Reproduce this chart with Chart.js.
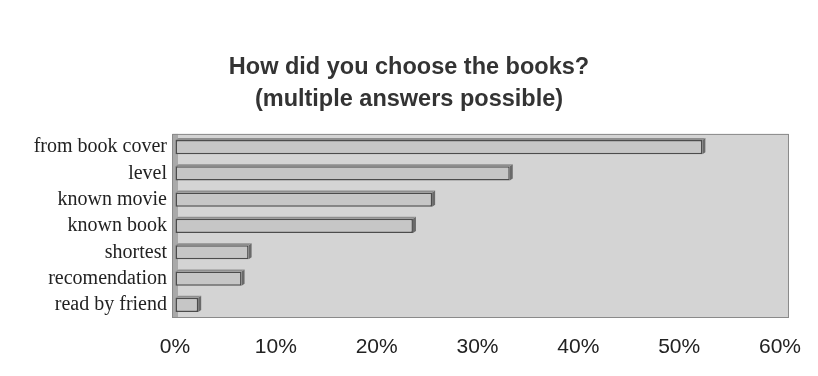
<!DOCTYPE html>
<html>
<head>
<meta charset="utf-8">
<script src="https://cdn.jsdelivr.net/npm/chart.js@4"></script>
<style>
  html, body { margin: 0; padding: 0; background: #fff; }
  #wrap { width: 818px; height: 376px; }
</style>
</head>
<body>
<div id="wrap"><canvas id="chartCanvas" width="818" height="376"></canvas></div>
<script>
const categories = ['from book cover', 'level', 'known movie', 'known book', 'shortest', 'recomendation', 'read by friend'];
const shares = [52.3, 33.2, 25.5, 23.6, 7.3, 6.6, 2.3];
const xTicks = [0, 10, 20, 30, 40, 50, 60];
const titleLines = ['How did you choose the books?', '(multiple answers possible)'];

// grey back wall behind the bars, with a thin darker left wall
const plotBox = {
  id: 'plotBox',
  beforeDatasetsDraw(chart) {
    const { ctx, chartArea: a } = chart;
    ctx.save();
    ctx.fillStyle = '#d4d4d4';
    ctx.fillRect(a.left, a.top, a.right - a.left + 8, a.bottom - a.top);
    ctx.fillStyle = '#a9a9a9';
    ctx.fillRect(a.left - 2, a.top, 5, a.bottom - a.top);
    ctx.strokeStyle = '#8a8a8a';
    ctx.lineWidth = 1;
    ctx.strokeRect(a.left - 2.5, a.top + 0.5, a.right - a.left + 11, a.bottom - a.top - 1);
    ctx.restore();
  }
};

// darker end face so the bars look a bit like the old 3D office charts
const barCaps = {
  id: 'barCaps',
  afterDatasetsDraw(chart) {
    const { ctx } = chart;
    chart.getDatasetMeta(0).data.forEach(bar => {
      const h = bar.height;
      const top = bar.y - h / 2;
      ctx.save();
      ctx.fillStyle = '#6a6a6a';
      ctx.beginPath();
      ctx.moveTo(bar.x, top);
      ctx.lineTo(bar.x + 3, top - 2);
      ctx.lineTo(bar.x + 3, top + h - 2);
      ctx.lineTo(bar.x, top + h);
      ctx.closePath();
      ctx.fill();
      ctx.fillStyle = '#8e8e8e';
      ctx.beginPath();
      ctx.moveTo(bar.base, top);
      ctx.lineTo(bar.base + 3, top - 2);
      ctx.lineTo(bar.x + 3, top - 2);
      ctx.lineTo(bar.x, top);
      ctx.closePath();
      ctx.fill();
      ctx.restore();
    });
  }
};

new Chart(document.getElementById('chartCanvas'), {
  type: 'bar',
  data: {
    labels: categories,
    datasets: [{
      data: shares,
      backgroundColor: '#c6c6c6',
      borderColor: '#4c4c4c',
      borderWidth: 1.5,
      borderSkipped: false,
      barPercentage: 0.54,
      categoryPercentage: 1
    }]
  },
  options: {
    indexAxis: 'y',
    responsive: false,
    animation: false,
    layout: { padding: { top: 52, right: 28, left: 28, bottom: 0 } },
    plugins: {
      legend: { display: false },
      tooltip: { enabled: false },
      title: {
        display: true,
        text: titleLines,
        color: '#333',
        font: { family: 'Liberation Sans, Arial, sans-serif', size: 23.5, weight: 'bold', lineHeight: 1.36 },
        padding: { top: 0, bottom: 18 }
      }
    },
    scales: {
      x: {
        min: 0,
        max: 60,
        afterBuildTicks(scale) { scale.ticks = xTicks.map(v => ({ value: v })); },
        afterFit(scale) { scale.height = 58; },
        ticks: {
          callback: v => v + '%',
          color: '#222',
          padding: 17,
          maxRotation: 0,
          font: { family: 'Liberation Sans, Arial, sans-serif', size: 21 }
        },
        grid: { color: 'rgba(255,255,255,0.35)', drawTicks: false },
        border: { display: false }
      },
      y: {
        afterFit(scale) { scale.width = 147; },
        ticks: {
          autoSkip: false,
          color: '#222',
          padding: 8,
          font: { family: 'Liberation Serif, Times New Roman, serif', size: 20 }
        },
        grid: { display: false, drawTicks: false },
        border: { display: false }
      }
    }
  },
  plugins: [plotBox, barCaps]
});
</script>
</body>
</html>
